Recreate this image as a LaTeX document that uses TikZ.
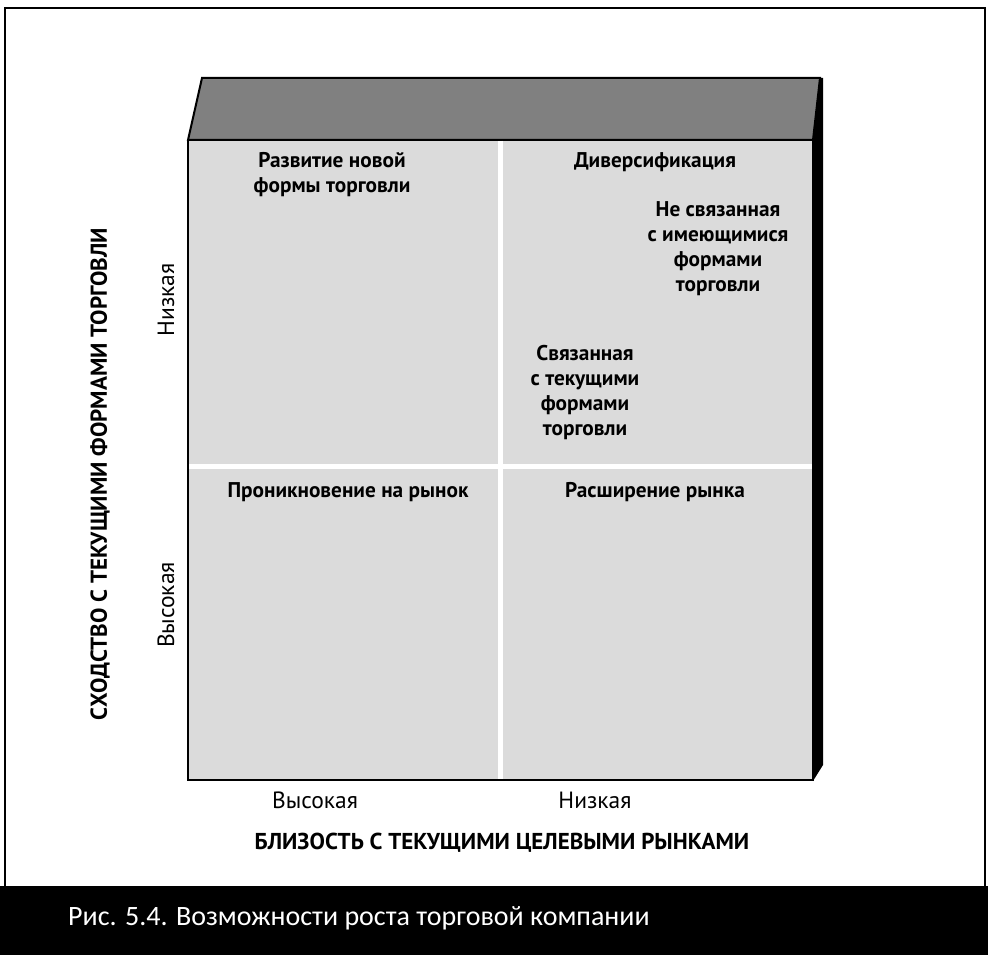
\documentclass[tikz,border=0pt]{standalone}
\usepackage{fontspec}
\setmainfont{Carlito}
\newfontfamily\ptsans{PT Sans}
\usepackage{xcolor}
\usepackage{tikz}
\usetikzlibrary{positioning}

\definecolor{facegray}{gray}{0.86}
\definecolor{topgray}{gray}{0.5}

\begin{document}
\begin{tikzpicture}[x=1pt, y=-1pt,
    quad/.style={font=\ptsans\bfseries\fontsize{21.3}{25}\selectfont, align=center, inner sep=0pt},
    tick/.style={font=\ptsans\fontsize{23.5}{25}\selectfont, inner sep=0pt},
    axistitle/.style={font=\ptsans\bfseries\fontsize{23}{26}\selectfont, inner sep=0pt}]
    \useasboundingbox (0,0) rectangle (988,955);

    % Frame and caption bar
    \draw[line width=1.5pt] (5,888) -- (5,8) -- (985,8) -- (985,888);
    \fill[black] (0,886) rectangle (988,955);
    \node[font=\fontsize{28}{30}\selectfont, white, anchor=west, inner sep=0pt] (caption) at (68,918) {Рис. 5.4. Возможности роста торговой компании};

    % Top face
    \filldraw[fill=topgray, draw=black, line width=2pt] (202,78) -- (820,78) -- (813,140) -- (188,140) -- cycle;
    % Side face
    \fill[black] (813,140) -- (820,78) -- (823,78) -- (823,765) -- (813,781) -- cycle;
    % Front face
    \filldraw[fill=facegray, draw=black, line width=2.5pt] (188,140) rectangle (813,780);

    % Dividers
    \draw[white, line width=5pt] (500,141) -- (500,779);
    \draw[white, line width=5pt] (189,466) -- (812,466);

    % Quadrant labels
    \node[quad] (newform) at (332,175) {Развитие новой\\формы торговли};
    \node[quad] (divers) at (655,162) {Диверсификация};
    \node[quad] (unrel) at (718,249) {Не связанная\\с имеющимися\\формами\\торговли};
    \node[quad] (rel) at (585,393) {Связанная\\с текущими\\формами\\торговли};
    \node[quad] (penetr) at (348,492) {Проникновение на рынок};
    \node[quad] (expand) at (655,492) {Расширение рынка};

    % Axis ticks
    \node[tick, rotate=90] (ylow) at (166,300) {Низкая};
    \node[tick, rotate=90] (yhigh) at (166,605) {Высокая};
    \node[tick] (xhigh) at (315,800) {Высокая};
    \node[tick] (xlow) at (595,800) {Низкая};

    % Axis titles
    \node[axistitle, rotate=90] (ytitle) at (100,474) {СХОДСТВО С ТЕКУЩИМИ ФОРМАМИ ТОРГОВЛИ};
    \node[axistitle] (xtitle) at (502,843) {БЛИЗОСТЬ С ТЕКУЩИМИ ЦЕЛЕВЫМИ РЫНКАМИ};
\end{tikzpicture}
\end{document}
